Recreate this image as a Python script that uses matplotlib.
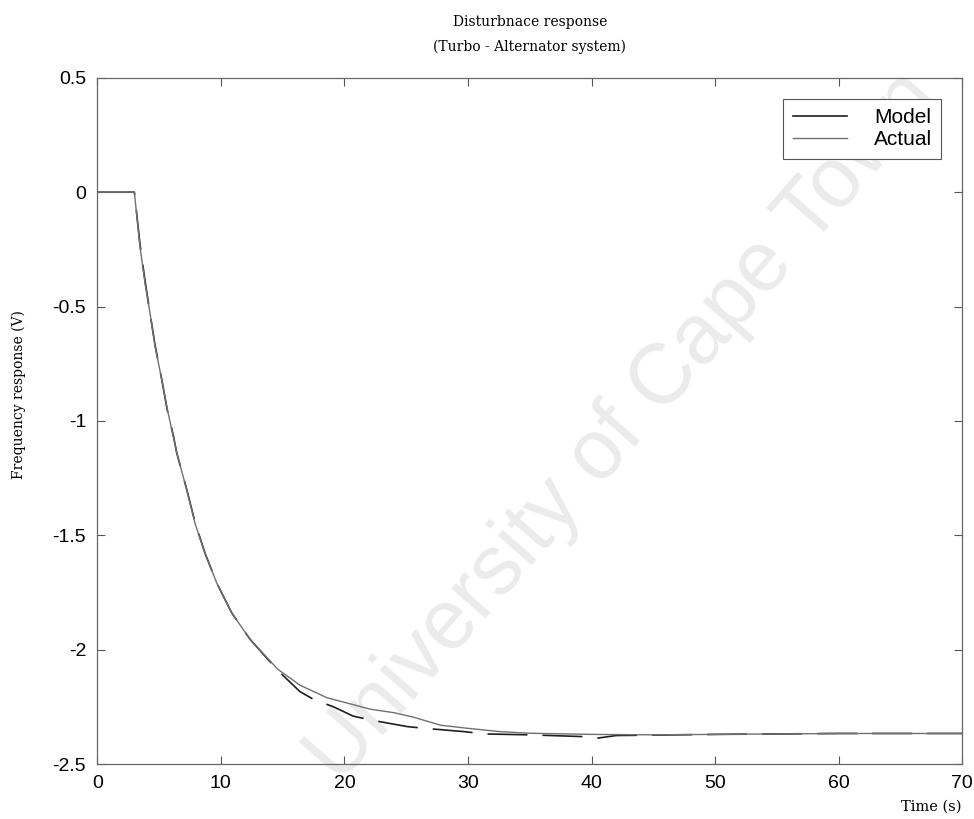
import matplotlib
matplotlib.use("Agg")
import matplotlib.pyplot as plt

""" Data read off the reference chart """

# Actual response (grey line)
t_actual = [0, 3.0, 3.46, 3.87, 4.27, 4.68, 5.22, 5.67, 6.16, 6.43, 7.24, 7.92, 8.73,
            9.68, 10.89, 12.37, 14.6, 16.4, 18.6, 20.5, 22.1, 24.0, 25.6, 27.8, 29.9,
            32.6, 35, 40, 45, 50, 55, 60, 70]
v_actual = [0, 0, -0.24, -0.40, -0.53, -0.675, -0.82, -0.95, -1.07, -1.14, -1.30, -1.45, -1.58,
            -1.71, -1.84, -1.955, -2.085, -2.155, -2.21, -2.237, -2.26, -2.275, -2.295, -2.33, -2.343,
            -2.358, -2.365, -2.37, -2.372, -2.37, -2.368, -2.366, -2.366]

# Model response (dark line)
t_model = [0, 3.0, 3.46, 3.87, 4.27, 4.68, 5.22, 5.67, 6.16, 6.43, 7.24, 7.92, 8.73,
           9.68, 10.89, 12.37, 14.6, 16.4, 17.6, 19.1, 20.7, 22.1, 25.1, 26.4, 29.7,
           31.3, 35, 39.5, 40.4, 42, 50, 60, 70]
v_model = [0, 0, -0.23, -0.39, -0.53, -0.67, -0.82, -0.955, -1.065, -1.14, -1.30, -1.445, -1.58,
           -1.71, -1.84, -1.955, -2.09, -2.183, -2.22, -2.249, -2.29, -2.307, -2.336, -2.343, -2.358,
           -2.368, -2.372, -2.38, -2.387, -2.375, -2.37, -2.366, -2.366]

x_ticks = [0, 10, 20, 30, 40, 50, 60, 70]
y_ticks = [0.5, 0, -0.5, -1, -1.5, -2, -2.5]
y_tick_labels = ["0.5", "0", "-0.5", "-1", "-1.5", "-2", "-2.5"]

""" Plotting """

fig = plt.figure(figsize=(9.74, 8.19), dpi=100)
ax = fig.add_axes([0.0999, 0.067, 0.888, 0.838])

ax.plot(t_model, v_model, color="#1e1e1e", lw=1.2, ls=(0, (24, 9)), label="Model", zorder=3)
ax.plot(t_actual, v_actual, color="#707070", lw=1.0, label="Actual", zorder=3)

ax.set_xlim(0, 70)
ax.set_ylim(-2.5, 0.5)
ax.set_xticks(x_ticks)
ax.set_yticks(y_ticks)
ax.set_yticklabels(y_tick_labels)
ax.tick_params(direction="in", length=6, width=0.8, color="#555555",
               top=True, right=True, labelsize=14, pad=8)
for lab in ax.get_xticklabels() + ax.get_yticklabels():
    lab.set_family("Liberation Sans")
for sp in ax.spines.values():
    sp.set_color("#666666")
    sp.set_linewidth(0.9)

ax.set_title("Disturbnace response\n(Turbo - Alternator system)", family="DejaVu Serif",
             fontsize=10, linespacing=2.0, pad=19)
ax.set_ylabel("Frequency response (V)", family="DejaVu Serif", fontsize=10)
ax.yaxis.set_label_coords(-0.083, 0.538)
fig.text(0.987, 0.006, "Time (s)", family="DejaVu Serif", fontsize=10.5, ha="right", va="bottom")

leg = ax.legend(loc="upper right", prop={"family": "Liberation Sans", "size": 15},
                fancybox=False, framealpha=1, edgecolor="#555555", handlelength=2.6,
                handletextpad=1.3, borderaxespad=1.0, borderpad=0.45, labelspacing=0.15)
leg.get_frame().set_linewidth(0.8)
leg.set_zorder(5)
leg.get_lines()[0].set_linestyle("-")  # legend sample drawn solid, as in the original

# scan watermark: under the curves and legend text
ax.text(0.64, 0.478, "University of Cape Town", transform=fig.transFigure, fontsize=61,
        color="#ebebeb", rotation=48.8, ha="center", va="center", family="Liberation Sans",
        zorder=1, clip_on=False)

plt.savefig("out.png", dpi=100)
